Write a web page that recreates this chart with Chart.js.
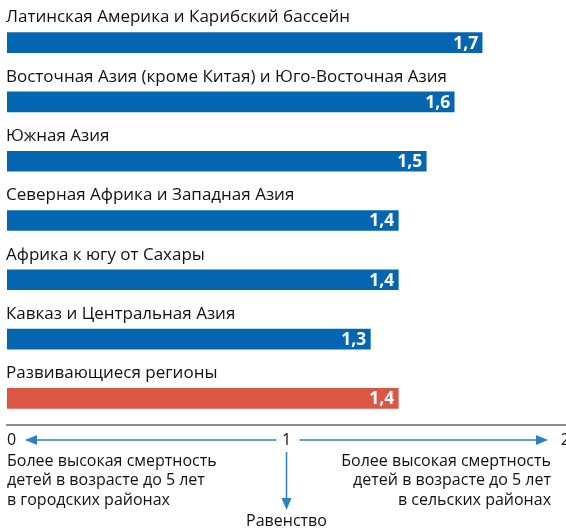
<!DOCTYPE html>
<html>
<head>
<meta charset="utf-8">
<script src="https://cdn.jsdelivr.net/npm/chart.js@4"></script>
<style>
  html, body { margin: 0; padding: 0; background: #fff; }
  #wrap { width: 566px; height: 532px; }
</style>
</head>
<body>
<div id="wrap"><canvas id="chart" width="566" height="532"></canvas></div>
<script>
// --- DATA ---
const regions = [
    "Латинская Америка и Карибский бассейн",
    "Восточная Азия (кроме Китая) и Юго-Восточная Азия",
    "Южная Азия",
    "Северная Африка и Западная Азия",
    "Африка к югу от Сахары",
    "Кавказ и Центральная Азия",
    "Развивающиеся регионы"
];
const ratios = [1.7, 1.6, 1.5, 1.4, 1.4, 1.3, 1.4];
const axisTicks = [0, 1, 2];
const leftNote = ["Более высокая смертность", "детей в возрасте до 5 лет", "в городских районах"];
const rightNote = ["Более высокая смертность", "детей в возрасте до 5 лет", "в сельских районах"];
const equalLabel = "Равенство";

// --- STYLE ---
const BLUE = '#0466b0';
const RED = '#da5843';
const ARROW = '#2f7fc1';
const FONT = '"Open Sans", sans-serif';

const barColors = regions.map((r, i) => i === regions.length - 1 ? RED : BLUE);

// draws labels, values and the bottom axis with arrows
const decorations = {
    id: 'decorations',
    afterDatasetsDraw(chart) {
        const ctx = chart.ctx;
        const x = chart.scales.x;
        const meta = chart.getDatasetMeta(0);
        ctx.save();

        meta.data.forEach((bar, i) => {
            // category label above the bar
            ctx.fillStyle = '#111';
            ctx.font = '17px ' + FONT;
            ctx.textAlign = 'left';
            ctx.textBaseline = 'middle';
            ctx.fillText(regions[i], x.getPixelForValue(0) - 1, bar.y - 25);
            // value inside the bar end
            ctx.fillStyle = '#fff';
            ctx.font = 'bold 17.5px ' + FONT;
            ctx.textAlign = 'right';
            ctx.fillText(ratios[i].toFixed(1).replace('.', ','), bar.x - 4, bar.y + 1);
        });

        const x0 = x.getPixelForValue(0), x1 = x.getPixelForValue(1), x2 = x.getPixelForValue(2);
        const lineY = 425, arrowY = 440;

        // axis line
        ctx.strokeStyle = '#666';
        ctx.lineWidth = 1.5;
        ctx.beginPath();
        ctx.moveTo(x0 - 1, lineY);
        ctx.lineTo(chart.width, lineY);
        ctx.stroke();

        // tick numbers
        ctx.fillStyle = '#111';
        ctx.font = '16px ' + FONT;
        ctx.textBaseline = 'middle';
        ctx.textAlign = 'left';
        ctx.fillText(String(axisTicks[0]), x0, arrowY);
        ctx.textAlign = 'center';
        ctx.fillText(String(axisTicks[1]), x1, arrowY);
        ctx.textAlign = 'right';
        ctx.fillText(String(axisTicks[2]), x2 + 4, arrowY);

        // arrows
        ctx.strokeStyle = ARROW;
        ctx.fillStyle = ARROW;
        ctx.lineWidth = 1.5;
        const head = (tx, ty, dx, dy) => {
            const len = 12, w = 5;
            const px = -dy, py = dx;
            ctx.beginPath();
            ctx.moveTo(tx, ty);
            ctx.lineTo(tx - dx * len + px * w, ty - dy * len + py * w);
            ctx.lineTo(tx - dx * len - px * w, ty - dy * len - py * w);
            ctx.closePath();
            ctx.fill();
        };
        ctx.beginPath();
        ctx.moveTo(x1 - 10, arrowY); ctx.lineTo(x0 + 25, arrowY);
        ctx.moveTo(x1 + 13, arrowY); ctx.lineTo(x2 - 25, arrowY);
        ctx.moveTo(x1, arrowY + 12); ctx.lineTo(x1, arrowY + 60);
        ctx.stroke();
        head(x0 + 18, arrowY, -1, 0);
        head(x2 - 18, arrowY, 1, 0);
        head(x1, arrowY + 70, 0, 1);

        // notes
        ctx.fillStyle = '#111';
        ctx.font = '16px ' + FONT;
        ctx.textAlign = 'left';
        leftNote.forEach((t, i) => ctx.fillText(t, x0, 461 + i * 19.5));
        ctx.textAlign = 'right';
        rightNote.forEach((t, i) => ctx.fillText(t, x2 - 15, 461 + i * 19.5));
        ctx.textAlign = 'center';
        ctx.fillText(equalLabel, x1, 521);

        ctx.restore();
    }
};

const chart = new Chart(document.getElementById('chart'), {
    type: 'bar',
    data: {
        labels: regions,
        datasets: [{ data: ratios, backgroundColor: barColors, barThickness: 20, borderWidth: 0 }]
    },
    options: {
        indexAxis: 'y',
        responsive: false,
        animation: false,
        layout: { padding: { left: 7, right: 0, top: 13, bottom: 104 } },
        scales: {
            x: { display: false, min: 0, max: 2 },
            y: { display: false }
        },
        plugins: { legend: { display: false }, tooltip: { enabled: false } }
    },
    plugins: [decorations]
});
</script>
</body>
</html>
